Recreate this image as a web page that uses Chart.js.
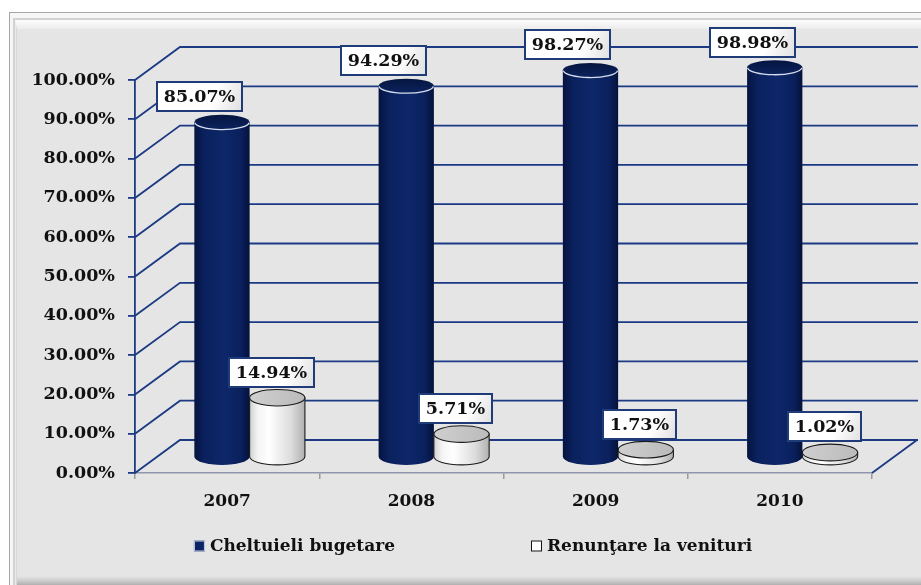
<!DOCTYPE html>
<html><head><meta charset="utf-8">
<script src="https://cdn.jsdelivr.net/npm/chart.js@4.4.1/dist/chart.umd.min.js"></script>
<style>html,body{margin:0;padding:0;background:#fff;overflow:hidden}</style>
</head><body>
<canvas id="c" width="921" height="585"></canvas>
<script>
// ---- data ----
const categories = ['2007', '2008', '2009', '2010'];
const seriesNames = ['Cheltuieli bugetare', 'Renunţare la venituri'];
const cheltuieliBugetare = [85.07, 94.29, 98.27, 98.98];
const renuntareVenituri = [14.94, 5.71, 1.73, 1.02];
const yMin = 0, yMax = 100, yStep = 10;

// ---- style ----
const FONT = 'DejaVu Serif';
const NUM_SIZE = 17.5;
const DX = 45, DY = -33;          // depth of the 3D box
const GRID = '#1c3a84';

function ryAt(y) { return 7.2 + 1.2 * (y - 60) / 400; }

function drawFrame(ctx, W, H) {
  ctx.save();
  ctx.fillStyle = '#ffffff'; ctx.fillRect(0, 0, W, H);
  ctx.fillStyle = '#a6a6a6'; ctx.fillRect(9, 12, W - 9, H - 12);
  ctx.fillStyle = '#f6f6f6'; ctx.fillRect(10, 13, W - 10, H - 13);
  ctx.fillStyle = '#d2d2d2'; ctx.fillRect(13, 18, W - 13, 2); ctx.fillRect(13, 18, 2, H - 18);
  let g = ctx.createLinearGradient(0, 20, 0, 29);
  g.addColorStop(0, '#fdfdfd'); g.addColorStop(1, '#ececec');
  ctx.fillStyle = g;
  ctx.beginPath(); ctx.moveTo(15, 20); ctx.lineTo(W, 20); ctx.lineTo(W, 29); ctx.lineTo(17, 29); ctx.closePath(); ctx.fill();
  g = ctx.createLinearGradient(15, 0, 17, 0);
  g.addColorStop(0, '#f2f2f2'); g.addColorStop(1, '#cfcfcf');
  ctx.fillStyle = g;
  ctx.beginPath(); ctx.moveTo(15, 20); ctx.lineTo(17, 29); ctx.lineTo(17, H); ctx.lineTo(15, H); ctx.closePath(); ctx.fill();
  ctx.fillStyle = '#e5e5e5'; ctx.fillRect(17, 29, W - 17, H - 29);
  g = ctx.createLinearGradient(0, 576, 0, H);
  g.addColorStop(0, 'rgba(190,190,190,0)'); g.addColorStop(1, 'rgba(175,175,175,1)');
  ctx.fillStyle = g; ctx.fillRect(17, 576, W - 17, H - 576);
  ctx.restore();
}

function cylinder(ctx, cx, topY, baseY, w, dark) {
  const rx = w / 2;
  const ryT = ryAt(topY), ryB = ryAt(baseY);
  ctx.save();
  const g = ctx.createLinearGradient(cx - rx, 0, cx + rx, 0);
  if (dark) {
    g.addColorStop(0, '#05133f'); g.addColorStop(0.18, '#0a215e');
    g.addColorStop(0.55, '#0d2769'); g.addColorStop(0.85, '#0a205c'); g.addColorStop(1, '#04113a');
  } else {
    g.addColorStop(0, '#d0d0d0'); g.addColorStop(0.15, '#f4f4f4'); g.addColorStop(0.35, '#ffffff');
    g.addColorStop(0.75, '#dcdcdc'); g.addColorStop(1, '#b0b0b0');
  }
  ctx.beginPath();
  ctx.moveTo(cx - rx, topY);
  ctx.lineTo(cx - rx, baseY);
  ctx.ellipse(cx, baseY, rx, ryB, 0, Math.PI, 0, true);
  ctx.lineTo(cx + rx, topY);
  ctx.closePath();
  ctx.fillStyle = g; ctx.fill();
  if (!dark) { ctx.strokeStyle = '#1a1a1a'; ctx.lineWidth = 1.1; ctx.stroke(); }
  ctx.beginPath();
  ctx.ellipse(cx, topY, rx, ryT, 0, 0, Math.PI * 2);
  if (dark) {
    const tg = ctx.createLinearGradient(0, topY - ryT, 0, topY + ryT);
    tg.addColorStop(0, '#051540'); tg.addColorStop(1, '#0c235e');
    ctx.fillStyle = tg; ctx.fill();
    ctx.beginPath();
    ctx.ellipse(cx, topY, rx - 0.5, ryT, 0, 0.05, Math.PI - 0.05);
    ctx.strokeStyle = 'rgba(225,232,245,0.95)'; ctx.lineWidth = 1.3; ctx.stroke();
  } else {
    const tg = ctx.createLinearGradient(cx - rx, topY - ryT, cx + rx, topY + ryT);
    tg.addColorStop(0, '#d0d0d0'); tg.addColorStop(1, '#bababa');
    ctx.fillStyle = tg; ctx.fill();
    ctx.strokeStyle = '#1a1a1a'; ctx.lineWidth = 1.1; ctx.stroke();
  }
  ctx.restore();
}

function labelBox(ctx, text, cx, bottomY) {
  ctx.save();
  ctx.font = 'bold ' + NUM_SIZE + 'px "' + FONT + '"';
  const tw = ctx.measureText(text).width;
  const w = Math.round(tw + 16), h = 31;
  const x = Math.round(cx - w / 2), y = Math.round(bottomY - h);
  const g = ctx.createLinearGradient(x, y, x + w, y + h);
  g.addColorStop(0, '#ffffff'); g.addColorStop(0.65, '#ffffff'); g.addColorStop(1, '#dedede');
  ctx.fillStyle = g; ctx.fillRect(x, y, w, h);
  ctx.strokeStyle = '#203c78'; ctx.lineWidth = 2;
  ctx.strokeRect(x + 1, y + 1, w - 2, h - 2);
  ctx.fillStyle = '#111111'; ctx.textAlign = 'center'; ctx.textBaseline = 'middle';
  ctx.fillText(text, x + w / 2, y + h / 2 + 1);
  ctx.restore();
}

const scene3d = {
  id: 'scene3d',
  beforeDraw(chart) { drawFrame(chart.ctx, chart.width, chart.height); },
  beforeDatasetsDraw(chart) {
    const ctx = chart.ctx, y = chart.scales.y, x = chart.scales.x;
    const L = x.left, R = x.right;
    ctx.save();
    ctx.strokeStyle = GRID; ctx.lineWidth = 1.8;
    y.ticks.forEach(t => {
      const py = y.getPixelForValue(t.value);
      ctx.beginPath();
      ctx.moveTo(L, py); ctx.lineTo(L + DX, py + DY); ctx.lineTo(R + DX + 1, py + DY);
      ctx.stroke();
    });
    const by = y.getPixelForValue(yMin);
    ctx.beginPath(); ctx.moveTo(R, by); ctx.lineTo(R + DX, by + DY); ctx.stroke();
    ctx.restore();
  },
  afterDatasetsDraw(chart) {
    const ctx = chart.ctx;
    const base0 = chart.scales.y.getPixelForValue(yMin);
    const order = [0, 1];
    categories.forEach((c, i) => {
      order.forEach(d => {
        const el = chart.getDatasetMeta(d).data[i];
        cylinder(ctx, el.x + DX / 2, el.y + DY / 2, base0 + DY / 2, el.width, d === 0);
      });
    });
    categories.forEach((c, i) => {
      order.forEach(d => {
        const el = chart.getDatasetMeta(d).data[i];
        const v = chart.data.datasets[d].data[i];
        const cx = d === 0 ? el.x : el.x + DX / 2 - 6;
        labelBox(ctx, v.toFixed(2) + '%', cx, el.y + DY / 2 - 10);
      });
    });
  },
  afterDraw(chart) {
    const ctx = chart.ctx;
    ctx.save();
    ctx.font = 'bold 17px "' + FONT + '"';
    ctx.textBaseline = 'middle'; ctx.textAlign = 'left';
    const items = chart.data.datasets.map(ds => ({ label: ds.label, fill: ds.legendFill }));
    const gap = 136, box = 11, sp = 5;
    const widths = items.map(it => box + sp + ctx.measureText(it.label).width);
    const total = widths.reduce((a, b) => a + b, 0) + gap * (items.length - 1);
    let x = 473 - total / 2;
    const cy = 546;
    items.forEach((it, k) => {
      ctx.fillStyle = it.fill;
      ctx.fillRect(x, cy - box / 2, box, box);
      ctx.strokeStyle = k === 0 ? '#c9d0e0' : '#111111'; ctx.lineWidth = 1;
      ctx.strokeRect(x + 0.5, cy - box / 2 + 0.5, box - 1, box - 1);
      ctx.fillStyle = '#111111';
      ctx.fillText(it.label, x + box + sp, cy + 1);
      x += widths[k] + gap;
    });
    ctx.restore();
  }
};

Chart.defaults.font.family = FONT;
Chart.defaults.font.size = NUM_SIZE;
Chart.defaults.font.weight = 'bold';
Chart.defaults.color = '#111111';

new Chart(document.getElementById('c'), {
  type: 'bar',
  data: {
    labels: categories,
    datasets: [
      { label: seriesNames[0], data: cheltuieliBugetare, backgroundColor: 'rgba(0,0,0,0)', legendFill: '#0b2466',
        barPercentage: 1.0, categoryPercentage: 0.6 },
      { label: seriesNames[1], data: renuntareVenituri, backgroundColor: 'rgba(0,0,0,0)', legendFill: '#ffffff',
        barPercentage: 1.0, categoryPercentage: 0.6 }
    ]
  },
  options: {
    responsive: false,
    animation: false,
    devicePixelRatio: 1,
    layout: { padding: { left: 0, top: 80, right: 49, bottom: 0 } },
    plugins: { legend: { display: false }, tooltip: { enabled: false } },
    scales: {
      x: {
        grid: { drawOnChartArea: false, drawTicks: true, tickLength: 6, color: '#9a9a9a', lineWidth: 1.5 },
        border: { display: true, color: '#8e98aa', width: 1.5 },
        ticks: { padding: 12, font: { size: 17, weight: 'bold' }, color: '#111111' },
        afterFit(s) { s.height = 112; }
      },
      y: {
        min: yMin, max: yMax,
        grid: { drawOnChartArea: false, drawTicks: true, tickLength: 7, color: GRID, lineWidth: 1.8 },
        border: { display: true, color: GRID, width: 1.8 },
        ticks: { stepSize: yStep, padding: 13, color: '#111111', font: { size: NUM_SIZE, weight: 'bold' },
          callback: v => v.toFixed(2) + '%' },
        afterFit(s) { s.width = 135; }
      }
    }
  },
  plugins: [scene3d]
});
</script>
</body></html>
